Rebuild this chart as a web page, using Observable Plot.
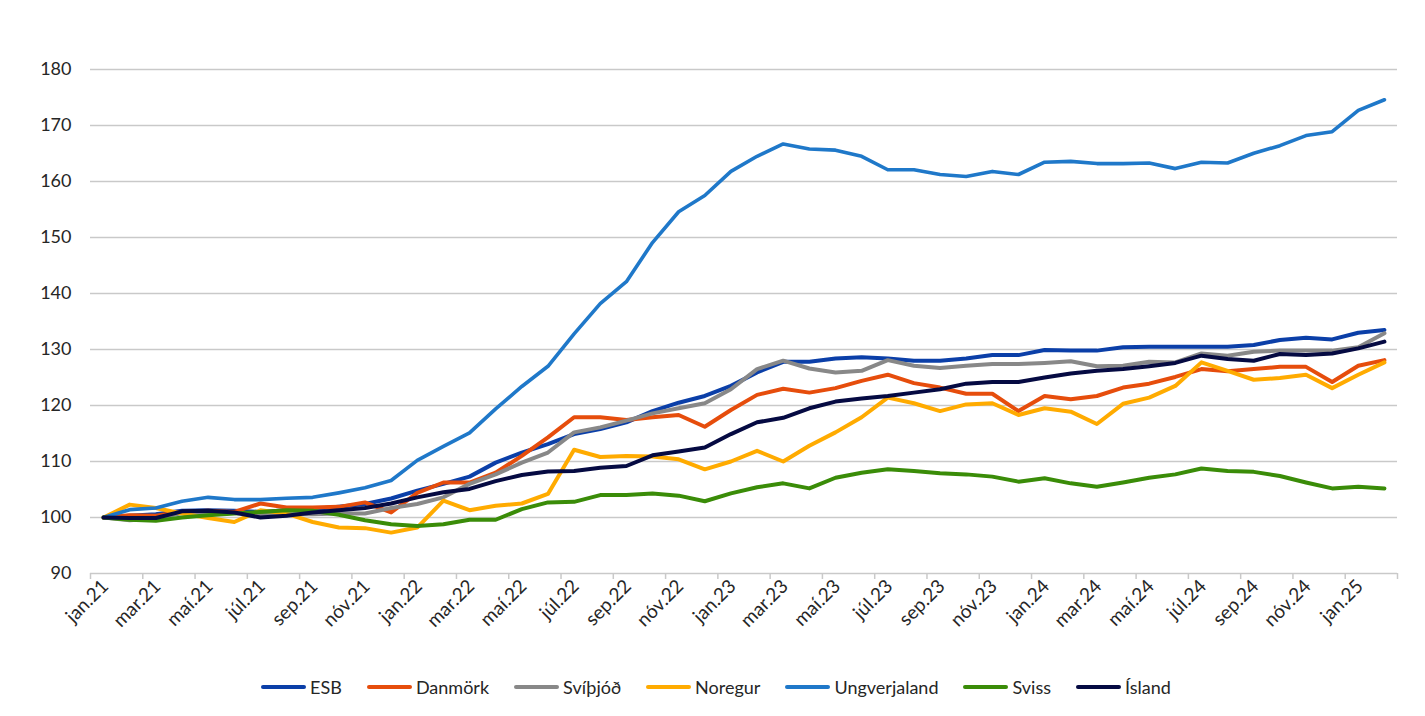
<!DOCTYPE html>
<html>
<head>
<meta charset="utf-8">
<script src="https://cdn.jsdelivr.net/npm/d3@7"></script>
<script src="https://cdn.jsdelivr.net/npm/@observablehq/plot@0.6"></script>
<style>
  html, body { margin: 0; padding: 0; background: #fff; }
  body { width: 1425px; height: 716px; overflow: hidden; font-family: Lato, "Open Sans", sans-serif; }
  #chart svg { display: block; }
  #legend { display: flex; justify-content: center; align-items: center; gap: 25px; margin-top: 15px; padding-left: 7px; height: 24px; font-size: 18px; color: #262626; }
  .item { display: flex; align-items: center; gap: 4px; white-space: nowrap; }
  .sw { width: 45px; height: 4.5px; border-radius: 2.5px; display: inline-block; }
</style>
</head>
<body>
<div id="chart"></div>
<div id="legend"></div>
<script>
// ---- Data ----
const months = [
  "jan.21","feb.21","mar.21","apr.21","maí.21","jún.21","júl.21","ágú.21","sep.21","okt.21","nóv.21","des.21",
  "jan.22","feb.22","mar.22","apr.22","maí.22","jún.22","júl.22","ágú.22","sep.22","okt.22","nóv.22","des.22",
  "jan.23","feb.23","mar.23","apr.23","maí.23","jún.23","júl.23","ágú.23","sep.23","okt.23","nóv.23","des.23",
  "jan.24","feb.24","mar.24","apr.24","maí.24","jún.24","júl.24","ágú.24","sep.24","okt.24","nóv.24","des.24",
  "jan.25","feb.25"
];
const tickLabels = months.filter((m, i) => i % 2 === 0);
const yTicks = [90, 100, 110, 120, 130, 140, 150, 160, 170, 180];

const esb = [100, 100.3, 100.6, 101.2, 101.3, 101.2, 101.0, 101.3, 101.5, 101.9, 102.4, 103.4,
  104.8, 106.0, 107.3, 109.8, 111.6, 113.1, 114.9, 115.8, 117.0, 119.0, 120.5, 121.7,
  123.5, 125.9, 127.8, 127.8, 128.4, 128.6, 128.4, 128.0, 128.0, 128.4, 129.0, 129.0,
  129.9, 129.8, 129.8, 130.4, 130.5, 130.5, 130.5, 130.5, 130.8, 131.7, 132.1, 131.8,
  133.0, 133.5];
const danmork = [100, 100.4, 100.3, 101.0, 101.2, 101.0, 102.5, 101.8, 101.8, 101.9, 102.7, 100.9,
  104.4, 106.25, 106.25, 108.0, 111.0, 114.3, 117.9, 117.9, 117.4, 117.9, 118.3, 116.2,
  119.2, 121.9, 123.0, 122.3, 123.1, 124.4, 125.5, 124.0, 123.2, 122.1, 122.1, 119.0,
  121.7, 121.1, 121.7, 123.2, 123.9, 125.1, 126.5, 126.1, 126.5, 126.9, 126.9, 124.2,
  127.1, 128.1];
const svithjod = [100, 99.5, 99.8, 100.8, 101.0, 100.8, 100.5, 100.6, 100.6, 100.7, 100.7, 101.7,
  102.4, 103.6, 106.0, 107.7, 109.8, 111.6, 115.2, 116.1, 117.3, 118.6, 119.5, 120.4,
  122.9, 126.5, 128.0, 126.6, 125.9, 126.2, 128.1, 127.1, 126.7, 127.1, 127.4, 127.4,
  127.6, 127.9, 127.0, 127.1, 127.8, 127.7, 129.3, 128.9, 129.6, 129.8, 129.8, 129.8,
  130.4, 132.9];
const noregur = [100, 102.3, 101.7, 100.7, 99.9, 99.2, 101.3, 100.7, 99.2, 98.2, 98.1, 97.3,
  98.2, 103.0, 101.3, 102.1, 102.5, 104.2, 112.1, 110.8, 111.0, 110.9, 110.4, 108.6,
  110.0, 111.9, 110.0, 112.8, 115.2, 117.9, 121.4, 120.4, 119.0, 120.2, 120.4, 118.3,
  119.5, 118.9, 116.7, 120.3, 121.4, 123.5, 127.7, 126.2, 124.6, 124.9, 125.5, 123.1,
  125.5, 127.7];
const ungverjaland = [100, 101.4, 101.7, 102.9, 103.6, 103.2, 103.2, 103.45, 103.6, 104.4, 105.3, 106.6,
  110.2, 112.7, 115.1, 119.4, 123.4, 127.0, 132.8, 138.2, 142.1, 149.1, 154.6, 157.5,
  161.8, 164.5, 166.7, 165.8, 165.6, 164.5, 162.1, 162.1, 161.25, 160.9, 161.8, 161.25,
  163.45, 163.6, 163.2, 163.2, 163.3, 162.3, 163.45, 163.3, 165.05, 166.4, 168.2, 168.9,
  172.7, 174.6];
const sviss = [100, 99.6, 99.4, 100.0, 100.4, 100.7, 101.0, 101.3, 101.2, 100.5, 99.5, 98.8,
  98.5, 98.8, 99.6, 99.6, 101.5, 102.7, 102.8, 104.0, 104.0, 104.3, 103.9, 102.9,
  104.3, 105.4, 106.1, 105.2, 107.1, 108.0, 108.6, 108.3, 107.9, 107.7, 107.3, 106.4,
  107.0, 106.1, 105.5, 106.25, 107.1, 107.7, 108.75, 108.3, 108.15, 107.4, 106.25, 105.2,
  105.5, 105.2];
const island = [100, 99.9, 99.9, 101.1, 101.2, 100.9, 100.0, 100.3, 100.9, 101.3, 101.7, 102.5,
  103.6, 104.5, 105.1, 106.5, 107.6, 108.2, 108.3, 108.9, 109.2, 111.1, 111.8, 112.5,
  114.9, 117.0, 117.8, 119.5, 120.7, 121.25, 121.7, 122.3, 122.9, 123.9, 124.2, 124.2,
  125.0, 125.7, 126.2, 126.5, 127.0, 127.6, 128.9, 128.3, 128.0, 129.2, 129.0, 129.3,
  130.2, 131.4];

const seriesNames = ["ESB", "Danmörk", "Svíþjóð", "Noregur", "Ungverjaland", "Sviss", "Ísland"];
const seriesValues = [esb, danmork, svithjod, noregur, ungverjaland, sviss, island];
const seriesColors = ["#0b3fa8", "#e64d0c", "#888888", "#ffab00", "#1f78c9", "#3a8c08", "#050a42"];

// ---- Chart ----
const W = 1425, H = 660;
const n = months.length;
const boundaries = d3.range(-0.5, n, 2);

const lineMarks = seriesValues.map((vals, s) =>
  Plot.lineY(vals, {
    x: (d, i) => i, y: d => d,
    stroke: seriesColors[s],
    strokeWidth: s === 4 ? 3.6 : 4,
    strokeLinejoin: "round", strokeLinecap: "round"
  })
);

const chart = Plot.plot({
  width: W, height: H,
  marginLeft: 90, marginRight: 28, marginTop: 69, marginBottom: H - 573,
  x: { type: "linear", domain: [-0.5, n - 0.5], axis: null },
  y: { domain: [90, 180], axis: null },
  style: { fontFamily: "Lato, 'Open Sans', sans-serif", fontSize: "18px", color: "#262626", background: "#fff" },
  marks: [
    Plot.ruleY(yTicks, { stroke: "#c9c9c9", strokeWidth: 1.5 }),
    Plot.axisX({ ticks: boundaries, tickFormat: () => "", tickSize: 6, stroke: "#c9c9c9", strokeWidth: 1.5 }),
    Plot.text(yTicks, { y: d => d, text: d => String(d), frameAnchor: "left", textAnchor: "end", dx: -19, fill: "#262626" }),
    Plot.text(tickLabels, { x: (d, k) => 2 * k, text: d => d, frameAnchor: "bottom", textAnchor: "end", rotate: -45, dx: 6, dy: 14, fontSize: 19, fill: "#262626" }),
    ...lineMarks
  ]
});
document.getElementById("chart").appendChild(chart);

// ---- Legend ----
const legend = document.getElementById("legend");
seriesNames.forEach((name, s) => {
  const item = document.createElement("div");
  item.className = "item";
  const sw = document.createElement("span");
  sw.className = "sw";
  sw.style.background = seriesColors[s];
  const t = document.createElement("span");
  t.textContent = name;
  item.appendChild(sw);
  item.appendChild(t);
  legend.appendChild(item);
});
</script>
</body>
</html>
